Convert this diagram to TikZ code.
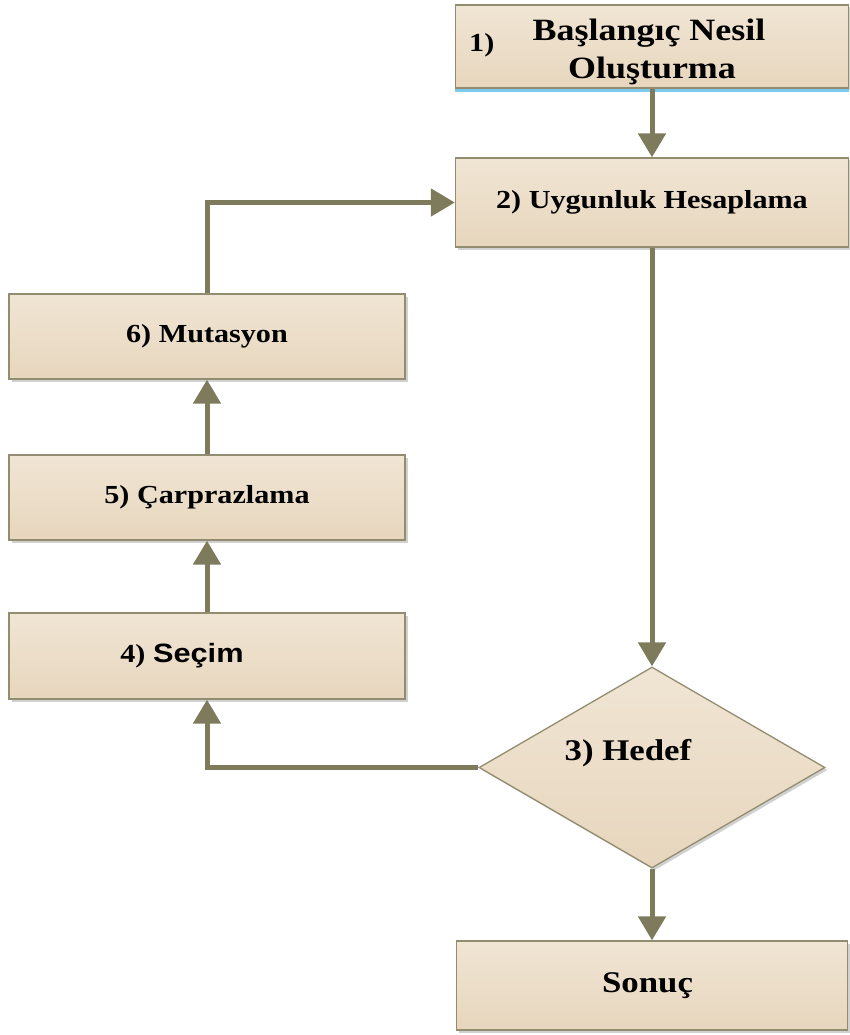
\documentclass[tikz,border=0pt]{standalone}
\usepackage{fontspec}
\setmainfont{Liberation Serif}
\newfontfamily\boxfont[FakeStretch=1.16]{Liberation Serif}
\newfontfamily\sansbox[FakeStretch=1.16]{Liberation Sans}
\usepackage{tikz}
\usetikzlibrary{calc,shapes,shadows,arrows.meta}
\definecolor{boxtop}{RGB}{240,229,212}
\definecolor{boxbot}{RGB}{231,214,189}
\definecolor{boxline}{RGB}{146,141,112}
\definecolor{arrowcol}{RGB}{126,122,92}
\definecolor{blueline}{RGB}{125,202,236}
\tikzstyle{every picture}=[->,>={Triangle[length=24pt,width=27pt]}]
\tikzstyle{stepbox}=[rectangle,draw=boxline,line width=1.3pt,top color=boxtop,bottom color=boxbot,
    inner sep=0pt,align=center,font=\boxfont\bfseries\fontsize{26}{30}\selectfont,
    drop shadow={shadow xshift=2.5pt,shadow yshift=-2.5pt,fill=black!30,opacity=.6}]
\tikzstyle{flow}=[draw=arrowcol,line width=5pt]

\begin{document}
\begin{tikzpicture}[x=1pt,y=-1pt]
    \useasboundingbox (0,0) rectangle (849,1035);

    % right column
    \node[stepbox,minimum width=393pt,minimum height=83pt,
          font=\boxfont\bfseries\fontsize{31}{38}\selectfont,
          label={[xshift=43pt,yshift=1pt,font=\boxfont\bfseries\fontsize{26}{30}\selectfont]west:1)}]
        (nesil) at (652,46.5) {\rule{0pt}{33pt}\hspace*{-6pt}Başlangıç Nesil\\Oluşturma};
    \draw[-,blueline,line width=2.5pt] ([yshift=-2pt]nesil.south west) -- ([yshift=-2pt]nesil.south east);
    \node[stepbox,minimum width=393pt,minimum height=89pt] (uygun) at (652,202.5) {2) Uygunluk Hesaplama};
    \node[stepbox,diamond,aspect=1.72,minimum width=346pt,minimum height=201pt,
          label={[xshift=-24pt,yshift=14pt,font=\boxfont\bfseries\fontsize{30}{34}\selectfont]center:3) Hedef}]
        (hedef) at (652,767.5) {};
    \node[stepbox,minimum width=391pt,minimum height=89pt,
          font=\boxfont\bfseries\fontsize{30}{34}\selectfont] (sonuc) at (652,985.5) {\hspace*{-9pt}Sonuç};

    % left column
    \node[stepbox,minimum width=396pt,minimum height=85pt] (mutasyon) at (207,336.5) {6) Mutasyon};
    \node[stepbox,minimum width=396pt,minimum height=85pt] (capraz) at (207,497.5) {5) Çarprazlama};
    \node[stepbox,minimum width=396pt,minimum height=86pt] (secim) at (207,656)
        {\hspace*{-50pt}4) {\sansbox\fontsize{26.5}{30}\selectfont Seçim}};

    % connectors
    \draw[flow] (nesil) -- (uygun);
    \draw[flow] (uygun) -- (hedef);
    \draw[flow] (hedef.west) -| (secim);
    \draw[flow] (secim) -- (capraz);
    \draw[flow] (capraz) -- (mutasyon);
    \draw[flow] (mutasyon) |- (uygun);
    \draw[flow] (hedef) -- (sonuc);
\end{tikzpicture}
\end{document}
